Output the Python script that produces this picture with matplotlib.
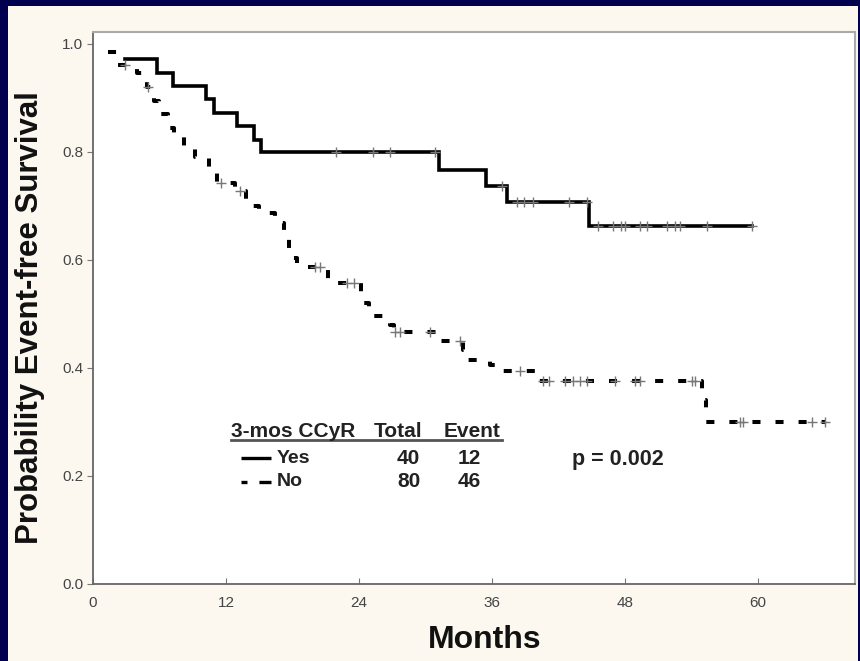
import numpy as np
import matplotlib
matplotlib.use("Agg")
import matplotlib.pyplot as plt
from matplotlib.patches import Rectangle

plt.rcParams['font.family'] = ['Liberation Sans', 'DejaVu Sans']
plt.rcParams['lines.scale_dashes'] = False

# Kaplan-Meier steps: time (months) where the curve
# takes the new value
yes_t = [2.9, 5.8, 7.2, 10.2, 10.9, 13.0, 14.5, 15.2, 31.2, 35.5, 37.4, 44.8, 59.5]
yes_s = [0.972, 0.946, 0.922, 0.898, 0.872, 0.848, 0.823, 0.80, 0.767, 0.737, 0.707, 0.663, 0.663]
yes_cens = [21.9, 25.3, 26.8, 30.9, 36.9, 38.3, 38.9, 39.7, 43.0, 44.6, 45.6, 46.9,
            47.7, 48.0, 49.4, 50.0, 51.8, 52.5, 53.0, 55.4, 59.5]

no_t = [1.4, 2.2, 4.0, 4.9, 5.5, 6.0, 6.8, 7.3, 8.2, 9.2, 10.5, 11.2, 12.8, 13.8, 15.0,
        16.4, 17.2, 17.7, 18.4, 21.2, 24.2, 24.9, 26.8, 27.2, 31.2, 33.4, 33.8, 35.8,
        36.4, 40.2, 55.0, 55.3, 66.1]
no_s = [0.985, 0.962, 0.946, 0.92, 0.895, 0.87, 0.845, 0.83, 0.807, 0.79, 0.765, 0.742,
        0.728, 0.70, 0.687, 0.668, 0.64, 0.604, 0.587, 0.557, 0.52, 0.496, 0.48, 0.467,
        0.45, 0.433, 0.415, 0.405, 0.395, 0.375, 0.34, 0.30, 0.30]
no_cens = [2.9, 5.0, 11.6, 13.3, 20.0, 20.5, 22.9, 23.6, 27.3, 27.7, 30.4, 33.1, 38.5,
           40.6, 41.2, 42.6, 43.3, 44.0, 44.6, 47.1, 48.9, 49.4, 54.1, 54.3, 58.4, 58.7,
           64.9, 66.1]

xticks = [0, 12, 24, 36, 48, 60]
yticks = [0.0, 0.2, 0.4, 0.6, 0.8, 1.0]

table_header = ["3-mos CCyR", "Total", "Event"]
table_groups = ["Yes", "No"]
table_total = [40, 80]
table_event = [12, 46]
p_text = "p = 0.002"


def value_at(t, s, c):
    t = np.asarray(t)
    s = np.asarray(s)
    idx = np.searchsorted(t, c, side='right') - 1
    return s[np.clip(idx, 0, len(s) - 1)]


fig = plt.figure(figsize=(8.6, 6.61), dpi=100)
fig.patch.set_facecolor('#00004e')
fig.patches.append(Rectangle((8 / 860, 0), 850 / 860, 655 / 661, transform=fig.transFigure,
                             facecolor='#fcf8ef', edgecolor='none', zorder=-10))

ax = fig.add_axes([0.1081, 0.1165, 0.886, 0.8351])
ax.set_facecolor('white')

ax.step(yes_t, yes_s, where='post', color='black', lw=2.6, solid_joinstyle='miter')
ax.step(no_t, no_s, where='post', color='black', lw=2.9, linestyle=(0, (5.8, 10.8)))

ax.plot(yes_cens, value_at(yes_t, yes_s, yes_cens), linestyle='none', marker='+',
        ms=7.5, mew=1, color='#777777')
ax.plot(no_cens, value_at(no_t, no_s, no_cens), linestyle='none', marker='+',
        ms=7.5, mew=1, color='#777777')

ax.set_xlim(0, 68.77)
ax.set_ylim(0, 1.0222)
ax.set_xticks(xticks)
ax.set_xticklabels([str(v) for v in xticks])
ax.set_yticks(yticks)
ax.set_yticklabels([f"{v:.1f}" for v in yticks])
ax.tick_params(axis='x', direction='in', length=4, color='#777777', labelsize=11,
               labelcolor='#444444', pad=9)
ax.tick_params(axis='y', direction='out', length=4, color='#777777', labelsize=11,
               labelcolor='#444444', pad=3)
for side in ['top', 'right']:
    ax.spines[side].set_color('#aaaaaa')
    ax.spines[side].set_linewidth(1.5)
for side in ['left', 'bottom']:
    ax.spines[side].set_color('#666666')
    ax.spines[side].set_linewidth(1.3)

fig.text(485 / 860, 1 - 640 / 661, "Months", fontsize=23, fontweight='bold',
         ha='center', va='center', color='#111111')
fig.text(30 / 860, 1 - 318 / 661, "Probability Event-free Survival", fontsize=22.5,
         fontweight='bold', rotation=90, ha='center', va='center', color='#111111')

# legend table
ax.text(12.5, 0.272, table_header[0], fontsize=15, fontweight='bold', ha='left',
        va='baseline', color='#222222')
ax.text(27.5, 0.272, table_header[1], fontsize=15, fontweight='bold', ha='center',
        va='baseline', color='#222222')
ax.text(34.2, 0.272, table_header[2], fontsize=15, fontweight='bold', ha='center',
        va='baseline', color='#222222')
ax.plot([12.5, 36.9], [0.266, 0.266], color='#555555', lw=2)

row_y = [0.233, 0.189]
styles = ['-', (0, (4.3, 8.6, 8.6, 0))]
for i in range(len(table_groups)):
    ax.plot([13.4, 16.1], [row_y[i], row_y[i]], color='black', lw=2.4, linestyle=styles[i],
            solid_capstyle='butt', dash_capstyle='butt')
    ax.text(16.6, row_y[i], table_groups[i], fontsize=14, fontweight='bold',
            ha='left', va='center', color='#222222')
    ax.text(28.5, row_y[i], str(table_total[i]), fontsize=15, fontweight='bold',
            ha='center', va='center', color='#222222')
    ax.text(34.0, row_y[i], str(table_event[i]), fontsize=15, fontweight='bold',
            ha='center', va='center', color='#222222')

ax.text(43.2, 0.23, p_text, fontsize=15.5, fontweight='bold', ha='left', va='center',
        color='#222222')

fig.savefig("out.png", dpi=100, facecolor=fig.get_facecolor())
